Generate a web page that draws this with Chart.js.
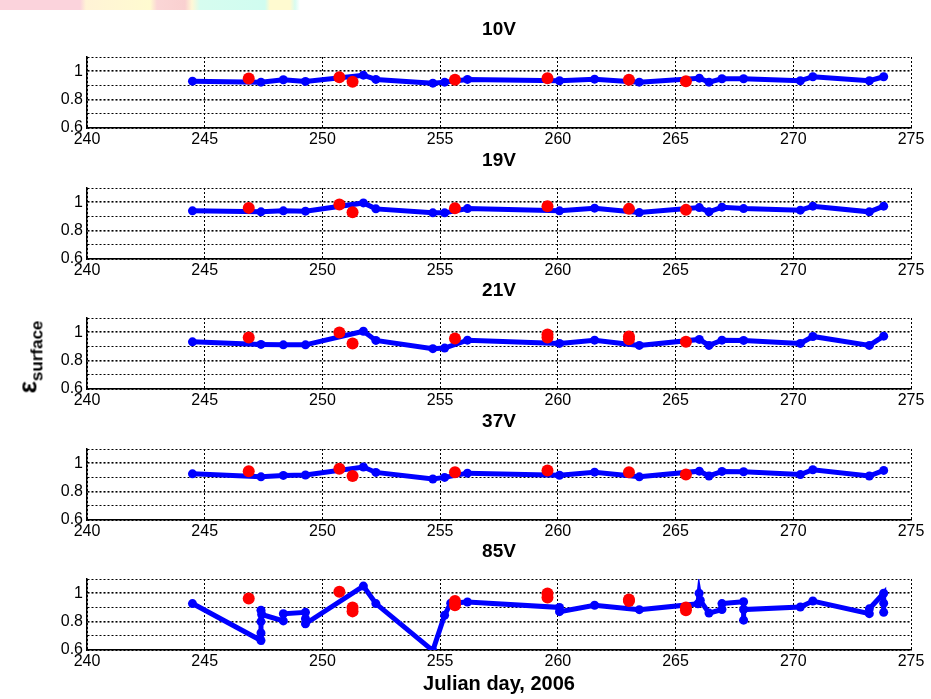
<!DOCTYPE html>
<html>
<head>
<meta charset="utf-8">
<script src="https://cdn.jsdelivr.net/npm/chart.js@4.4.1/dist/chart.umd.min.js"></script>
<style>
  body { margin: 0; background: #fff; }
  #fig { position: relative; width: 931px; height: 699px; overflow: hidden; background: #fff; }
  #fig canvas { position: absolute; left: 0; }
  #strip {
    position: absolute; left: 0; top: 0; width: 300px; height: 10px;
    background: linear-gradient(to right, #fbd3dc 0px, #fbd3dc 80px, #fff3d6 86px, #fffbd0 150px,
      #fbd6d6 157px, #f9d0d0 185px, #fff7d6 192px, #d6fcef 200px, #d0fcf0 265px,
      #fffad0 270px, #fffad0 290px, #d8fcf0 295px, #ffffff 300px);
  }
  #ylab {
    position: absolute; left: 30px; top: 357px; white-space: nowrap;
    transform: translate(-50%, -50%) rotate(-90deg);
    font-family: Arial, "Liberation Sans", sans-serif; font-weight: bold; font-size: 26px; color: #000;
  }
  #ylab sub { font-size: 17px; }
</style>
</head>
<body>
<div id="fig">
  <div id="strip"></div>
  <canvas id="p0" width="931" height="141" style="top:12px"></canvas>
  <canvas id="p1" width="931" height="141" style="top:143px"></canvas>
  <canvas id="p2" width="931" height="141" style="top:273px"></canvas>
  <canvas id="p3" width="931" height="141" style="top:404px"></canvas>
  <canvas id="p4" width="931" height="165" style="top:534px"></canvas>
  <div id="ylab">ε<sub>surface</sub></div>
</div>
<script>
// blue: model, shared days for 10V..37V
const blueDays = [244.48, 247.39, 248.34, 249.28, 251.74, 252.27, 254.69, 255.19, 256.16, 260.07,
  261.56, 263.46, 266.01, 266.42, 266.97, 267.89, 270.30, 270.83, 273.23, 273.84];
const blue10V = [0.930, 0.923, 0.940, 0.928, 0.972, 0.942, 0.916, 0.923, 0.942, 0.933,
  0.944, 0.923, 0.951, 0.923, 0.947, 0.947, 0.933, 0.961, 0.933, 0.961];
const blue19V = [0.939, 0.932, 0.939, 0.937, 0.995, 0.953, 0.925, 0.925, 0.955, 0.939,
  0.958, 0.927, 0.962, 0.932, 0.965, 0.955, 0.944, 0.972, 0.932, 0.972];
const blue21V = [0.932, 0.914, 0.911, 0.911, 1.007, 0.942, 0.884, 0.888, 0.944, 0.921,
  0.944, 0.907, 0.949, 0.907, 0.944, 0.942, 0.921, 0.970, 0.907, 0.972];
const blue37V = [0.925, 0.904, 0.914, 0.917, 0.973, 0.935, 0.889, 0.900, 0.930, 0.915,
  0.937, 0.904, 0.944, 0.910, 0.942, 0.940, 0.920, 0.954, 0.910, 0.949];

// 85V has several samples per day
const blueDays85V = [244.48, 247.39, 247.39, 247.39, 247.39, 247.42, 248.34, 248.34, 249.28, 249.28,
  249.28, 251.74, 252.27, 254.69, 255.19, 255.45, 256.16, 260.07, 260.07, 261.56,
  263.46, 265.95, 266.00, 266.05, 266.42, 266.97, 266.97, 267.89, 267.89, 267.89,
  270.30, 270.83, 273.23, 273.23, 273.84, 273.84, 273.84];
const blue85V = [0.927, 0.667, 0.720, 0.800, 0.880, 0.850, 0.805, 0.855, 0.865, 0.820,
  0.785, 1.050, 0.927, 0.596, 0.845, 0.930, 0.938, 0.900, 0.870, 0.915,
  0.884, 0.925, 1.000, 0.950, 0.860, 0.885, 0.927, 0.940, 0.810, 0.885,
  0.903, 0.945, 0.856, 0.890, 1.000, 0.930, 0.865];

// red: observations
const redDays = [246.87, 250.72, 251.28, 255.63, 259.56, 263.02, 265.44];
const red10V = [0.949, 0.958, 0.926, 0.940, 0.951, 0.940, 0.930];
const red19V = [0.960, 0.984, 0.930, 0.958, 0.972, 0.953, 0.946];
const redDays21V = [246.87, 250.72, 251.28, 255.63, 259.56, 259.56, 263.02, 263.02, 265.44];
const red21V = [0.963, 0.998, 0.921, 0.956, 0.983, 0.963, 0.970, 0.950, 0.932];
const red37V = [0.944, 0.961, 0.910, 0.937, 0.949, 0.937, 0.920];
const redDays85V = [246.87, 250.72, 251.28, 251.28, 255.63, 255.63, 259.56, 259.56, 263.02, 263.02, 265.44, 265.44];
const red85V = [0.962, 1.010, 0.900, 0.872, 0.945, 0.915, 0.998, 0.970, 0.955, 0.945, 0.900, 0.880];

const panelNames = ["10V", "19V", "21V", "37V", "85V"];
const xTitle = "Julian day, 2006";

const fam = 'Arial, "Liberation Sans", Helvetica, sans-serif';

function pts(xs, ys) {
  return xs.map((x, i) => ({ x: x, y: ys[i] }));
}

function makePanel(idx, bx, by, rx, ry) {
  const last = idx === 4;
  new Chart(document.getElementById("p" + idx), {
    type: "line",
    data: {
      datasets: [
        {
          data: pts(rx, ry),
          showLine: false,
          pointRadius: 6,
          pointHoverRadius: 6,
          pointBackgroundColor: "#ff0000",
          borderColor: "#ff0000",
          pointBorderWidth: 0,
          order: 0,
        },
        {
          data: pts(bx, by),
          borderColor: "#0000ff",
          borderWidth: 5,
          pointRadius: 4.5,
          pointHoverRadius: 4.5,
          pointBackgroundColor: "#0000ff",
          pointBorderWidth: 0,
          tension: 0,
          fill: false,
          order: 1,
        },
      ],
    },
    options: {
      responsive: false,
      animation: false,
      devicePixelRatio: 1,
      events: [],
      layout: { padding: { left: 0, right: 20, top: 0, bottom: 0 } },
      plugins: {
        legend: { display: false },
        tooltip: { enabled: false },
        title: {
          display: true,
          fullSize: false,
          text: panelNames[idx],
          color: "#000",
          font: { family: fam, size: 19, weight: "bold", lineHeight: 1.2 },
          padding: { top: 6.6, bottom: 15.6 },
        },
      },
      scales: {
        x: {
          type: "linear",
          min: 240,
          max: 275,
          ticks: { stepSize: 5, autoSkip: false, maxRotation: 0, color: "#000", padding: 2, font: { family: fam, size: 16 } },
          grid: { color: "#000", lineWidth: 1, drawTicks: false },
          border: { display: true, color: "#000", width: 1.5, dash: [2, 2] },
          title: {
            display: last,
            text: xTitle,
            color: "#000",
            font: { family: fam, size: 20, weight: "bold", lineHeight: 1.2 },
            padding: { top: 0, bottom: 3 },
          },
          afterFit: (s) => { s.height = last ? 49 : 25; },
        },
        y: {
          min: 0.6,
          max: 1.1,
          ticks: {
            stepSize: 0.1,
            autoSkip: false,
            color: "#000",
            padding: 4,
            font: { family: fam, size: 16 },
            callback: (v) => {
              const r = Math.round(v * 10);
              return r === 6 ? "0.6" : r === 8 ? "0.8" : r === 10 ? "1" : "";
            },
          },
          grid: {
            color: "#000",
            drawTicks: false,
            lineWidth: (c) => {
              if (!c.tick) return 1;
              const r = Math.round(c.tick.value * 10);
              return r === 8 || r === 10 ? 1.6 : 1;
            },
          },
          border: { display: true, color: "#000", width: 1.5, dash: [2, 2] },
          afterFit: (s) => { s.width = 87; },
        },
      },
    },
  });
}

makePanel(0, blueDays, blue10V, redDays, red10V);
makePanel(1, blueDays, blue19V, redDays, red19V);
makePanel(2, blueDays, blue21V, redDays21V, red21V);
makePanel(3, blueDays, blue37V, redDays, red37V);
makePanel(4, blueDays85V, blue85V, redDays85V, red85V);
</script>
</body>
</html>
